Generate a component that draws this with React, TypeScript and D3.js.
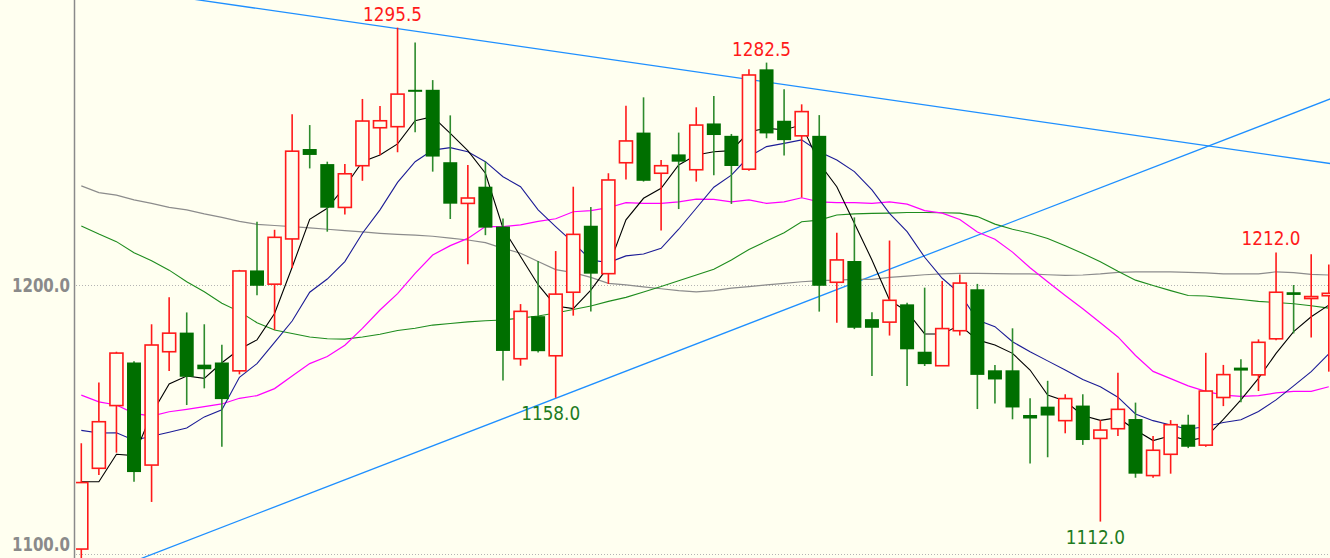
import React from 'react';
import * as d3 from 'd3';

const W = 1330;
const H = 558;

const opens = [
  1101.8, 1131.8, 1155.1, 1171.1, 1133.0, 1175.1, 1182.2, 1170.3, 1171.1, 1168.0,
  1205.3, 1200.2, 1217.0, 1250.4, 1244.8, 1228.7, 1244.2, 1258.3, 1258.7, 1272.4,
  1272.4, 1245.5, 1230.2, 1236.4, 1221.6, 1172.5, 1188.3, 1173.6, 1197.2, 1221.9,
  1204.1, 1245.3, 1256.5, 1241.4, 1248.4, 1242.7, 1259.9, 1255.3, 1242.9, 1280.0,
  1260.9, 1255.3, 1255.3, 1200.9, 1208.8, 1187.2, 1186.1, 1192.7, 1175.1, 1169.9,
  1182.9, 1198.3, 1168.2, 1168.2, 1151.6, 1154.7, 1149.5, 1155.1, 1142.9, 1146.5,
  1150.1, 1129.1, 1137.0, 1148.0, 1140.4, 1158.1, 1169.2, 1166.5, 1179.9, 1197.2,
  1194.9, 1195.9,
];
const highs = [
  1141.1, 1163.7, 1175.1, 1171.6, 1185.3, 1195.3, 1189.7, 1185.3, 1177.7, 1205.5,
  1223.4, 1220.4, 1263.3, 1259.3, 1245.7, 1244.8, 1269.0, 1266.4, 1295.5, 1290.0,
  1276.0, 1262.9, 1244.5, 1245.7, 1224.6, 1192.8, 1208.8, 1212.5, 1236.4, 1228.9,
  1241.4, 1266.5, 1269.6, 1246.3, 1256.5, 1265.9, 1270.1, 1256.0, 1280.0, 1282.5,
  1272.6, 1267.0, 1263.0, 1219.3, 1225.0, 1189.8, 1216.4, 1193.3, 1198.9, 1201.4,
  1203.8, 1200.3, 1170.2, 1183.8, 1157.8, 1164.3, 1159.3, 1159.3, 1149.7, 1167.3,
  1156.2, 1143.8, 1149.7, 1151.7, 1174.7, 1170.2, 1172.3, 1179.7, 1212.0, 1199.9,
  1211.3, 1207.5,
];
const lows = [
  1098.0, 1129.3, 1137.6, 1126.8, 1119.3, 1167.9, 1155.3, 1161.5, 1139.8, 1166.7,
  1196.1, 1183.2, 1206.2, 1243.2, 1219.7, 1226.1, 1238.6, 1248.2, 1249.2, 1256.6,
  1242.0, 1224.4, 1207.6, 1218.4, 1164.4, 1169.9, 1174.8, 1158.0, 1188.5, 1190.0,
  1200.3, 1239.1, 1238.3, 1220.1, 1228.1, 1238.3, 1240.7, 1230.0, 1242.3, 1254.4,
  1248.0, 1232.4, 1190.0, 1185.9, 1183.5, 1166.1, 1181.1, 1162.4, 1169.8, 1169.9,
  1181.1, 1153.8, 1155.9, 1150.0, 1133.6, 1135.9, 1144.8, 1140.5, 1112.0, 1143.8,
  1128.3, 1128.3, 1129.8, 1139.3, 1139.8, 1154.9, 1156.3, 1160.5, 1179.4, 1181.9,
  1180.4, 1167.7,
];
const closes = [
  1126.5, 1149.1, 1174.6, 1130.4, 1177.6, 1182.0, 1165.8, 1168.6, 1157.5, 1205.1,
  1199.6, 1217.6, 1249.6, 1248.2, 1228.6, 1241.2, 1260.8, 1260.9, 1270.8, 1271.7,
  1247.6, 1230.1, 1232.2, 1221.2, 1175.4, 1190.1, 1175.3, 1196.5, 1218.7, 1204.1,
  1238.9, 1253.4, 1238.6, 1244.2, 1245.7, 1259.3, 1255.6, 1244.1, 1277.9, 1256.2,
  1253.7, 1264.3, 1199.6, 1209.2, 1184.0, 1184.0, 1194.2, 1176.0, 1170.5, 1183.7,
  1200.6, 1166.5, 1164.8, 1154.4, 1150.3, 1151.4, 1157.7, 1142.3, 1146.0, 1153.7,
  1129.8, 1138.5, 1148.0, 1139.8, 1160.5, 1166.6, 1168.1, 1178.6, 1197.2, 1196.2,
  1195.6, 1196.8,
];

const ma5 = [
  1126.8, 1126.8, 1137.0, 1136.5, 1152.0, 1163.1, 1166.1, 1165.2, 1171.0, 1176.0,
  1179.5, 1189.3, 1206.5, 1224.3, 1228.4, 1236.4, 1245.7, 1248.2, 1252.3, 1260.9,
  1262.4, 1256.2, 1249.8, 1241.4, 1221.0, 1210.5, 1200.0, 1192.1, 1191.1, 1198.0,
  1206.7, 1224.1, 1232.1, 1235.8, 1244.5, 1248.2, 1249.4, 1249.8, 1256.8, 1258.1,
  1257.5, 1259.4, 1245.1, 1236.4, 1222.8, 1209.2, 1194.3, 1190.0, 1181.7, 1181.7,
  1185.0, 1179.5, 1177.6, 1174.5, 1168.3, 1159.0, 1156.8, 1151.4, 1149.6, 1150.6,
  1146.0, 1142.1, 1143.9, 1142.1, 1143.3, 1150.0, 1157.2, 1165.2, 1174.5, 1182.6,
  1188.1, 1192.4,
];
const ma10 = [
  1145.9, 1144.9, 1145.0, 1142.2, 1143.7, 1145.2, 1146.8, 1150.9, 1153.5, 1165.6,
  1170.7, 1178.6, 1186.5, 1197.2, 1202.1, 1208.6, 1219.1, 1227.8, 1238.0, 1245.7,
  1250.0, 1250.9, 1249.4, 1245.7, 1240.1, 1236.4, 1227.8, 1221.6, 1215.6, 1209.2,
  1208.2, 1210.7, 1211.4, 1213.5, 1220.6, 1228.4, 1236.2, 1240.7, 1247.6, 1251.3,
  1252.5, 1253.8, 1249.4, 1246.3, 1242.0, 1235.2, 1226.5, 1219.7, 1210.2, 1202.4,
  1196.8, 1186.9, 1184.4, 1178.8, 1175.1, 1171.7, 1168.3, 1164.8, 1162.1, 1158.2,
  1152.0, 1149.5, 1147.9, 1146.3, 1147.3, 1148.8, 1149.8, 1152.9, 1157.2, 1162.4,
  1167.7, 1174.3,
];
const ma20 = [
  1159.0, 1156.5, 1155.3, 1152.2, 1151.2, 1152.8, 1153.7, 1154.7, 1155.7, 1157.8,
  1158.8, 1161.4, 1166.1, 1170.7, 1173.3, 1177.5, 1183.8, 1190.6, 1196.7, 1204.2,
  1211.0, 1214.5, 1217.2, 1221.6, 1221.6, 1222.2, 1223.5, 1224.5, 1227.1, 1227.5,
  1228.6, 1230.5, 1230.2, 1230.2, 1230.8, 1231.8, 1231.7, 1230.8, 1231.5, 1230.2,
  1230.8, 1232.3, 1230.8, 1230.5, 1230.5, 1230.2, 1230.8, 1229.9, 1227.5, 1226.6,
  1224.2, 1219.6, 1216.9, 1212.1, 1206.3, 1201.1, 1196.0, 1191.1, 1185.9, 1180.6,
  1173.7, 1167.8, 1165.1, 1162.4, 1160.4, 1159.0, 1158.5, 1158.8, 1159.8, 1160.4,
  1160.4, 1162.1,
];
const ma60 = [
  1221.8, 1218.8, 1216.0, 1211.9, 1208.9, 1205.4, 1201.1, 1197.4, 1193.1, 1190.0,
  1185.9, 1183.2, 1181.9, 1180.6, 1179.9, 1179.8, 1180.6, 1181.6, 1183.0, 1183.8,
  1185.0, 1185.6, 1186.2, 1186.6, 1186.9, 1187.6, 1188.4, 1189.5, 1190.8, 1192.1,
  1193.8, 1195.3, 1197.3, 1199.3, 1201.5, 1203.6, 1205.7, 1209.2, 1213.1, 1216.2,
  1219.3, 1223.4, 1224.0, 1225.9, 1226.3, 1226.5, 1226.6, 1226.8, 1226.8, 1226.7,
  1226.6, 1225.3, 1222.5, 1220.6, 1219.1, 1217.2, 1214.5, 1211.6, 1208.5, 1205.0,
  1201.7, 1199.7, 1197.8, 1196.0, 1195.8, 1195.1, 1194.5, 1193.8, 1193.4, 1192.9,
  1192.2, 1191.3,
];
const ma120 = [
  1236.7, 1234.2, 1233.3, 1231.5, 1230.2, 1228.7, 1227.8, 1226.3, 1225.0, 1223.5,
  1222.4, 1222.0, 1221.6, 1221.1, 1220.6, 1220.1, 1219.6, 1219.1, 1218.7, 1218.4,
  1218.0, 1217.3, 1216.6, 1215.6, 1213.5, 1211.7, 1208.6, 1205.6, 1204.5, 1202.7,
  1200.5, 1199.9, 1199.2, 1198.5, 1197.8, 1197.3, 1197.8, 1198.7, 1199.3, 1199.9,
  1200.5, 1201.1, 1201.5, 1201.7, 1202.0, 1202.0, 1202.7, 1203.2, 1203.7, 1204.0,
  1204.2, 1204.2, 1204.1, 1204.0, 1204.0, 1203.7, 1203.5, 1203.6, 1204.0, 1204.6,
  1204.8, 1204.8, 1204.8, 1204.6, 1204.4, 1204.0, 1204.0, 1204.0, 1204.8, 1204.5,
  1203.8, 1203.6,
];

const yTicks = [1100, 1200];
const highMarks = [
  { i: 18, v: 1295.5 },
  { i: 39, v: 1282.5 },
  { i: 68, v: 1212.0 },
];
const lowMarks = [
  { i: 27, v: 1158.0 },
  { i: 58, v: 1112.0 },
];
const trendUpper = [
  { i: 18, v: 1295.1 },
  { i: 71, v: 1245.1 },
];
const trendLower = [
  { i: 27, v: 1157.8 },
  { i: 71, v: 1268.8 },
];

const BG = '#FFFFF0';
const RED = '#FF1A1A';
const GREEN_BODY = '#006F00';
const GREEN_WICK = '#2E8B2E';

export default function App() {
  const n = closes.length;
  const x = d3.scaleLinear().domain([0, 71]).range([81.3, 81.3 + 71 * 17.57]);
  const y = d3.scaleLinear().domain([1100, 1200]).range([553.9, 284.7]);
  const plotLeft = 76;

  const line = d3
    .line<number>()
    .x((_, i) => x(i))
    .y((d) => y(d));

  const extendLine = (pts: { i: number; v: number }[]) => {
    const [a, b] = pts;
    const slope = (b.v - a.v) / (b.i - a.i);
    const i0 = -5;
    const i1 = 80;
    return {
      x1: x(i0),
      y1: y(a.v + slope * (i0 - a.i)),
      x2: x(i1),
      y2: y(a.v + slope * (i1 - a.i)),
    };
  };
  const tu = extendLine(trendUpper);
  const tl = extendLine(trendLower);

  const mas = [
    { d: ma120, c: '#8C8C8C', w: 1.2 },
    { d: ma60, c: '#1E8C1E', w: 1.1 },
    { d: ma20, c: '#FF00FF', w: 1.2 },
    { d: ma10, c: '#1C1C96', w: 1.1 },
    { d: ma5, c: '#000000', w: 1.1 },
  ];

  const candles = d3.range(n).map((i) => {
    const o = opens[i];
    const c = closes[i];
    const hi = highs[i];
    const lo = lows[i];
    const cx = x(i);
    const up = c >= o;
    const top = y(Math.max(o, c));
    const bot = y(Math.min(o, c));
    const h = Math.max(bot - top, 2);
    if (up) {
      return (
        <g key={i}>
          <line x1={cx} x2={cx} y1={y(hi)} y2={y(lo)} stroke={RED} strokeWidth={1.6} />
          <rect x={cx - 6.5} y={top} width={13} height={h} fill={BG} stroke={RED} strokeWidth={1.6} />
        </g>
      );
    }
    return (
      <g key={i}>
        <line x1={cx} x2={cx} y1={y(hi)} y2={y(lo)} stroke={GREEN_WICK} strokeWidth={1.6} />
        <rect x={cx - 7} y={top} width={14} height={h} fill={GREEN_BODY} />
      </g>
    );
  });

  const font = '"DejaVu Sans", Verdana, sans-serif';

  return (
    <svg
      width={W}
      height={H}
      style={{ position: 'absolute', left: 0, top: 0, display: 'block' }}
      xmlns="http://www.w3.org/2000/svg"
    >
      <defs>
        <clipPath id="plot">
          <rect x={plotLeft} y={0} width={W - plotLeft} height={H} />
        </clipPath>
      </defs>
      <rect x={0} y={0} width={W} height={H} fill={BG} />
      {yTicks.map((t) => (
        <line
          key={t}
          x1={plotLeft}
          x2={W}
          y1={Math.round(y(t)) + 0.5}
          y2={Math.round(y(t)) + 0.5}
          stroke="#B4B4B4"
          strokeWidth={1}
          strokeDasharray="1,2"
        />
      ))}
      <line x1={74.5} x2={74.5} y1={0} y2={H} stroke="#8A8A8A" strokeWidth={1.5} />
      {yTicks.map((t) => (
        <text
          key={'l' + t}
          x={12}
          y={Math.min(y(t) + 7, H - 7)}
          fontFamily={font}
          fontWeight="bold"
          fontSize={19}
          fill="#8A8A8A"
          textLength={58}
          lengthAdjust="spacingAndGlyphs"
        >
          {t.toFixed(1)}
        </text>
      ))}
      <g clipPath="url(#plot)">
        <line {...tu} stroke="#1E8FFF" strokeWidth={1.3} />
        <line {...tl} stroke="#1E8FFF" strokeWidth={1.3} />
        {mas.map((m, k) => (
          <path key={k} d={line(m.d) || ''} fill="none" stroke={m.c} strokeWidth={m.w} />
        ))}
        {candles}
        {highMarks.map((m) => (
          <text
            key={'h' + m.i}
            x={x(m.i) - 34.5}
            y={y(m.v) - 7}
            fontFamily={font}
            fontSize={19}
            fill={RED}
            textLength={59}
            lengthAdjust="spacingAndGlyphs"
          >
            {m.v.toFixed(1)}
          </text>
        ))}
        {lowMarks.map((m) => (
          <text
            key={'lo' + m.i}
            x={x(m.i) - 34.5}
            y={y(m.v) + 22.5}
            fontFamily={font}
            fontSize={19}
            fill="#1E7B1E"
            textLength={59}
            lengthAdjust="spacingAndGlyphs"
          >
            {m.v.toFixed(1)}
          </text>
        ))}
      </g>
    </svg>
  );
}
